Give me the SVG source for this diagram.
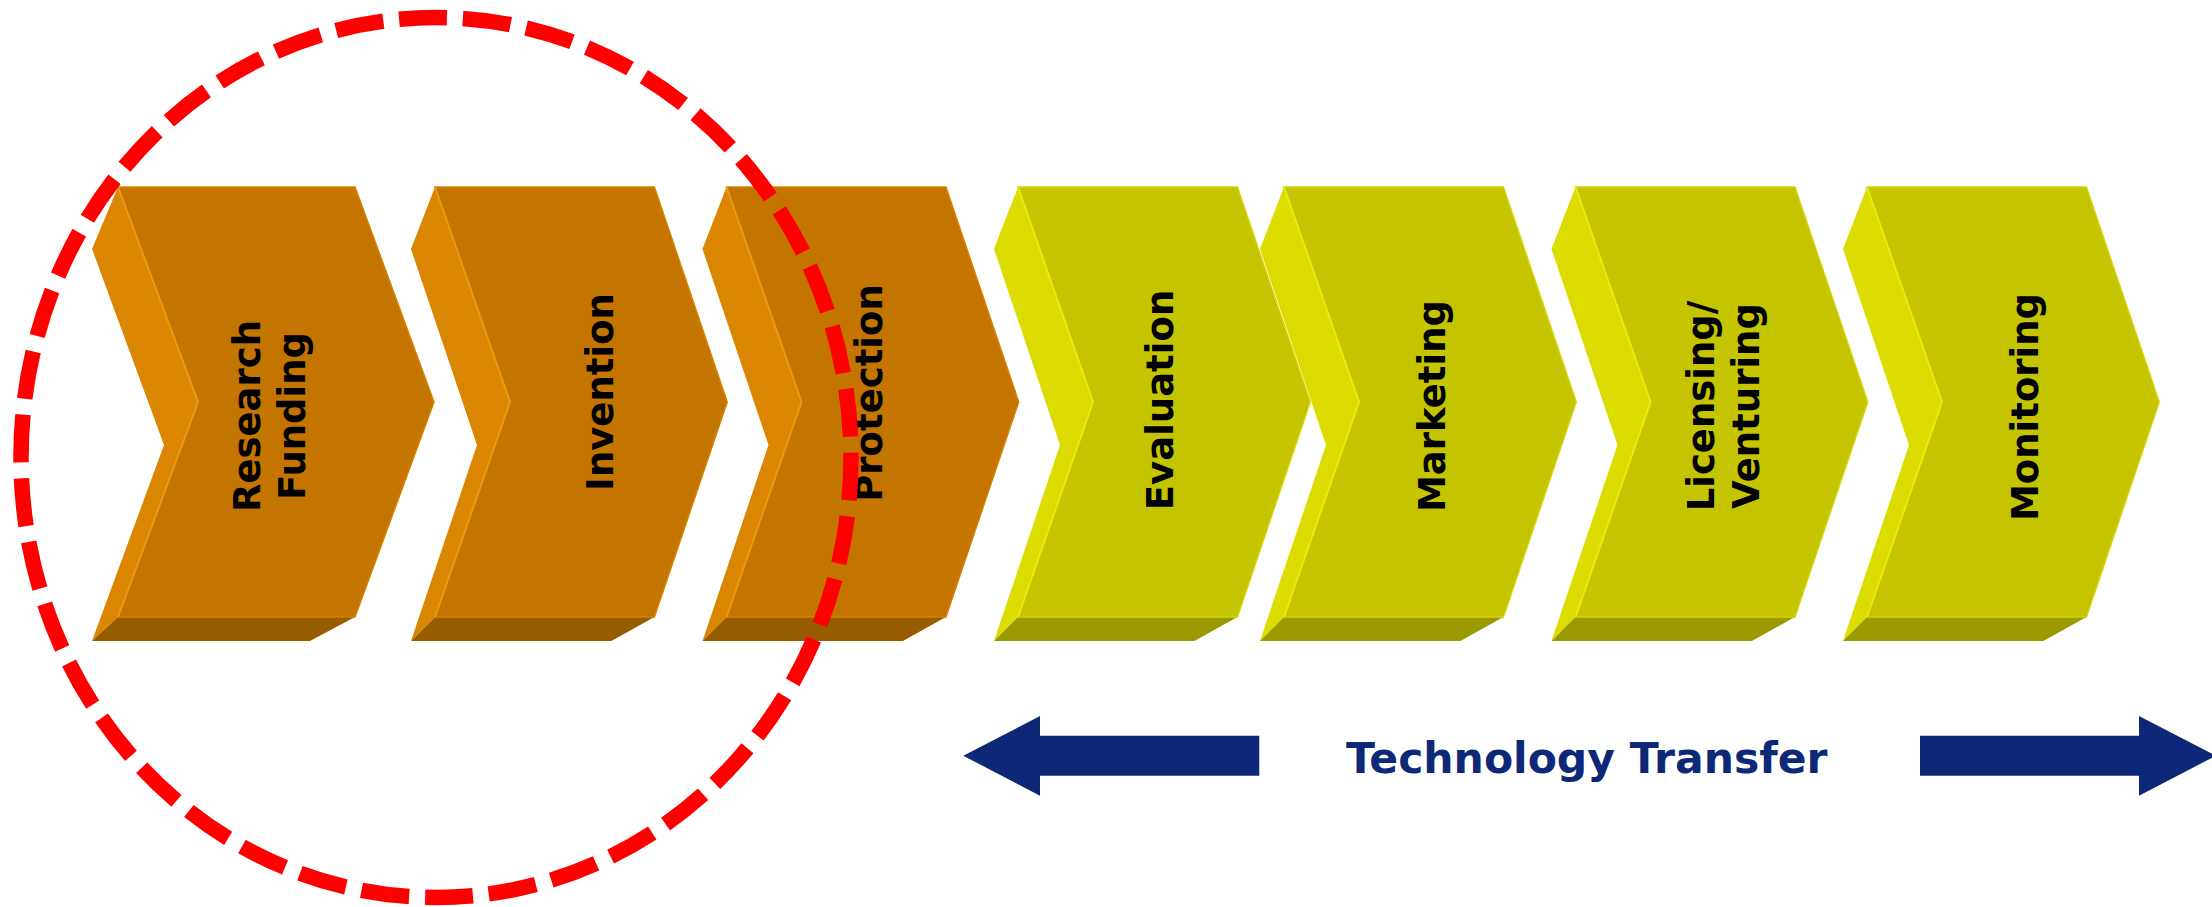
<svg xmlns="http://www.w3.org/2000/svg" width="2212" height="907" viewBox="0 0 2212 907">
  <style>
    .o .front { fill: #C47500; stroke: #D68200; stroke-width: 1.5; }
    .o .side { fill: #DB8600; }
    .o .bot { fill: #975C00; }
    .o .edge { fill: none; stroke: #E89A10; stroke-width: 2; }
    .y .front { fill: #C4C400; stroke: #D4D400; stroke-width: 1.5; }
    .y .side { fill: #DCDC00; }
    .y .bot { fill: #9A9A00; }
    .y .edge { fill: none; stroke: #EAEA10; stroke-width: 2; }
    .lbl { font-family: "DejaVu Sans", Verdana, sans-serif; font-weight: bold; font-size: 37px; fill: #000000; text-anchor: middle; }
    .tt { font-family: "DejaVu Sans", Verdana, sans-serif; font-weight: bold; font-size: 42.5px; fill: #0D2877; }
    .navy { fill: #0D2877; }
  </style>
  <rect width="2212" height="907" fill="#FFFFFF"/>

  <!-- Research Funding (slightly larger first chevron) -->
  <g id="research-funding" class="o">
    <polygon class="side" points="118,187 198,402 118,617 92,641 164,445 92,249"/>
    <polygon class="bot" points="92,641 118,617 355,617 310,641"/>
    <polygon class="front" points="118,187 355,187 434,402 355,617 118,617 198,402"/>
    <polyline class="edge" points="118,187 198,402 118,617"/>
    <text class="lbl" transform="translate(260,416) rotate(-90)">Research<tspan x="0" dy="45">Funding</tspan></text>
  </g>

  <g id="invention" class="o" transform="translate(435,0)">
    <polygon class="side" points="0,187 75,402 0,617 -24,641 42,445 -24,249"/>
    <polygon class="bot" points="-24,641 0,617 219.4,617 176.4,641"/>
    <polygon class="front" points="0,187 219.4,187 292.2,402 219.4,617 0,617 75,402"/>
    <polyline class="edge" points="0,187 75,402 0,617"/>
    <text class="lbl" transform="translate(178,392) rotate(-90)">Invention</text>
  </g>

  <g id="protection" class="o" transform="translate(726.5,0)">
    <polygon class="side" points="0,187 75,402 0,617 -24,641 42,445 -24,249"/>
    <polygon class="bot" points="-24,641 0,617 219.4,617 176.4,641"/>
    <polygon class="front" points="0,187 219.4,187 292.2,402 219.4,617 0,617 75,402"/>
    <polyline class="edge" points="0,187 75,402 0,617"/>
    <text class="lbl" transform="translate(155.5,393) rotate(-90)">Protection</text>
  </g>

  <g id="evaluation" class="y" transform="translate(1018,0)">
    <polygon class="side" points="0,187 75,402 0,617 -24,641 42,445 -24,249"/>
    <polygon class="bot" points="-24,641 0,617 219.4,617 176.4,641"/>
    <polygon class="front" points="0,187 219.4,187 292.2,402 219.4,617 0,617 75,402"/>
    <polyline class="edge" points="0,187 75,402 0,617"/>
    <text class="lbl" transform="translate(155,400) rotate(-90)">Evaluation</text>
  </g>

  <g id="marketing" class="y" transform="translate(1284,0)">
    <polygon class="side" points="0,187 75,402 0,617 -24,641 42,445 -24,249"/>
    <polygon class="bot" points="-24,641 0,617 219.4,617 176.4,641"/>
    <polygon class="front" points="0,187 219.4,187 292.2,402 219.4,617 0,617 75,402"/>
    <polyline class="edge" points="0,187 75,402 0,617"/>
    <text class="lbl" transform="translate(161,406) rotate(-90)">Marketing</text>
  </g>

  <g id="licensing-venturing" class="y" transform="translate(1575.5,0)">
    <polygon class="side" points="0,187 75,402 0,617 -24,641 42,445 -24,249"/>
    <polygon class="bot" points="-24,641 0,617 219.4,617 176.4,641"/>
    <polygon class="front" points="0,187 219.4,187 292.2,402 219.4,617 0,617 75,402"/>
    <polyline class="edge" points="0,187 75,402 0,617"/>
    <text class="lbl" transform="translate(138.5,406) rotate(-90)">Licensing/<tspan x="0" dy="45">Venturing</tspan></text>
  </g>

  <g id="monitoring" class="y" transform="translate(1867,0)">
    <polygon class="side" points="0,187 75,402 0,617 -24,641 42,445 -24,249"/>
    <polygon class="bot" points="-24,641 0,617 219.4,617 176.4,641"/>
    <polygon class="front" points="0,187 219.4,187 292.2,402 219.4,617 0,617 75,402"/>
    <polyline class="edge" points="0,187 75,402 0,617"/>
    <text class="lbl" transform="translate(171,407) rotate(-90)">Monitoring</text>
  </g>

  <!-- Technology Transfer span: two outward block arrows and the caption -->
  <g id="connectors">
    <polygon class="navy" points="963.3,755.7 1040,716 1040,735.7 1259.3,735.7 1259.3,775.7 1040,775.7 1040,795.7"/>
    <polygon class="navy" points="1920,735.7 2139,735.7 2139,716 2216,755.7 2139,795.7 2139,775.7 1920,775.7"/>
  </g>
  <g id="technology-transfer">
    <text class="tt" x="1346" y="773">Technology Transfer</text>
  </g>

  <!-- dashed highlight ring around the first stages -->
  <g id="highlight">
    <ellipse cx="436" cy="457.5" rx="415" ry="440" fill="none" stroke="#FF0000" stroke-width="15.5" stroke-dasharray="48 16" stroke-dashoffset="5" pathLength="2688"/>
  </g>
</svg>
